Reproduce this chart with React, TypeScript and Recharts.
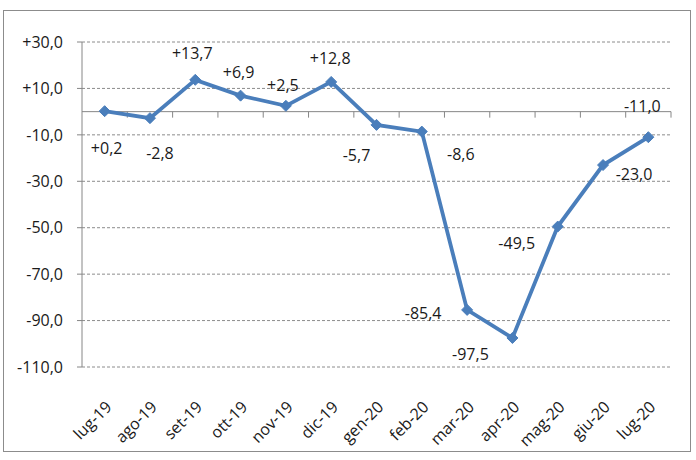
import React from 'react';
import { LineChart, Line, XAxis, YAxis, CartesianGrid, ReferenceLine } from 'recharts';

const categories = ['lug-19', 'ago-19', 'set-19', 'ott-19', 'nov-19', 'dic-19', 'gen-20', 'feb-20', 'mar-20', 'apr-20', 'mag-20', 'giu-20', 'lug-20'];
const values = [0.2, -2.8, 13.7, 6.9, 2.5, 12.8, -5.7, -8.6, -85.4, -97.5, -49.5, -23.0, -11.0];
const yTicks = [-110, -90, -70, -50, -30, -10, 10, 30];
// label offsets relative to the point (dx, dy) as placed in the original chart
const labelDx = [2, 10, -3, -2, -3, -1, -20, 39, -44, -42, -41, 31, -6];
const labelDy = [37, 35, -27, -24, -21, -24, 30, 22, 3, 16, 16, 9, -31];

const data = categories.map((c, i) => ({ name: c, value: values[i] }));

const FONT = '"Open Sans", "Liberation Sans", sans-serif';
const fmt = (v: number) => (v > 0 ? '+' : '') + v.toFixed(1).replace('.', ',');

const Diamond = (props: any) => {
  const { cx, cy } = props;
  if (cx == null || cy == null) return null;
  const r = 5.5;
  return (
    <polygon
      points={`${cx},${cy - r} ${cx + r},${cy} ${cx},${cy + r} ${cx - r},${cy}`}
      fill="#4A7EBB"
      stroke="#4A7EBB"
      strokeWidth={1}
    />
  );
};

const renderLabel = (props: any) => {
  const { x, y, value, index } = props;
  return (
    <text
      x={x + labelDx[index]}
      y={y + labelDy[index]}
      textAnchor="middle"
      dominantBaseline="central"
      fontFamily={FONT}
      fontSize={16}
      fill="#1a1a1a"
    >
      {fmt(value)}
    </text>
  );
};

const XTick = (props: any) => {
  const { x, y, payload } = props;
  const ax = x + 8;
  const ay = y + 33;
  return (
    <text
      x={ax}
      y={ay}
      transform={`rotate(-45 ${ax} ${ay})`}
      textAnchor="end"
      fontFamily={FONT}
      fontSize={16}
      fill="#1a1a1a"
    >
      {payload.value}
    </text>
  );
};

const ZeroLine = (props: any) => {
  const { x1, y1, x2, y2 } = props;
  const n = categories.length;
  const step = (x2 - x1) / n;
  const ticks = [];
  for (let i = 1; i <= n; i++) {
    const tx = x1 + i * step;
    ticks.push(<line key={i} x1={tx} x2={tx} y1={y1} y2={y1 + 6} stroke="#868686" strokeWidth={1} />);
  }
  return (
    <g>
      <line x1={x1} y1={y1} x2={x2} y2={y2} stroke="#868686" strokeWidth={1} />
      {ticks}
    </g>
  );
};

export default function App() {
  return (
    <div style={{ position: 'absolute', left: 0, top: 0, width: 696, height: 460, background: '#fff' }}>
      <div
        style={{
          position: 'absolute',
          left: 3,
          top: 10,
          width: 688,
          height: 442,
          border: '1px solid #8c8c8c',
          boxSizing: 'border-box',
        }}
      />
      <LineChart
        width={696}
        height={460}
        data={data}
        margin={{ top: 42, right: 25, left: 0, bottom: 0 }}
      >
        <CartesianGrid vertical={false} stroke="#8c8c8c" strokeDasharray="3 2" />
        <XAxis
          dataKey="name"
          scale="band"
          axisLine={false}
          tickLine={false}
          height={93}
          interval={0}
          tick={<XTick />}
        />
        <YAxis
          domain={[-110, 30]}
          ticks={yTicks}
          width={82}
          interval={0}
          tickFormatter={fmt}
          axisLine={{ stroke: '#868686' }}
          tickLine={{ stroke: '#868686' }}
          tickSize={5}
          tickMargin={14}
          tick={{ fontFamily: FONT, fontSize: 16, fill: '#1a1a1a' }}
        />
        <ReferenceLine y={0} shape={<ZeroLine />} />
        <Line
          type="linear"
          dataKey="value"
          stroke="#4A7EBB"
          strokeWidth={3.8}
          dot={<Diamond />}
          activeDot={false}
          label={renderLabel}
          isAnimationActive={false}
        />
      </LineChart>
    </div>
  );
}
